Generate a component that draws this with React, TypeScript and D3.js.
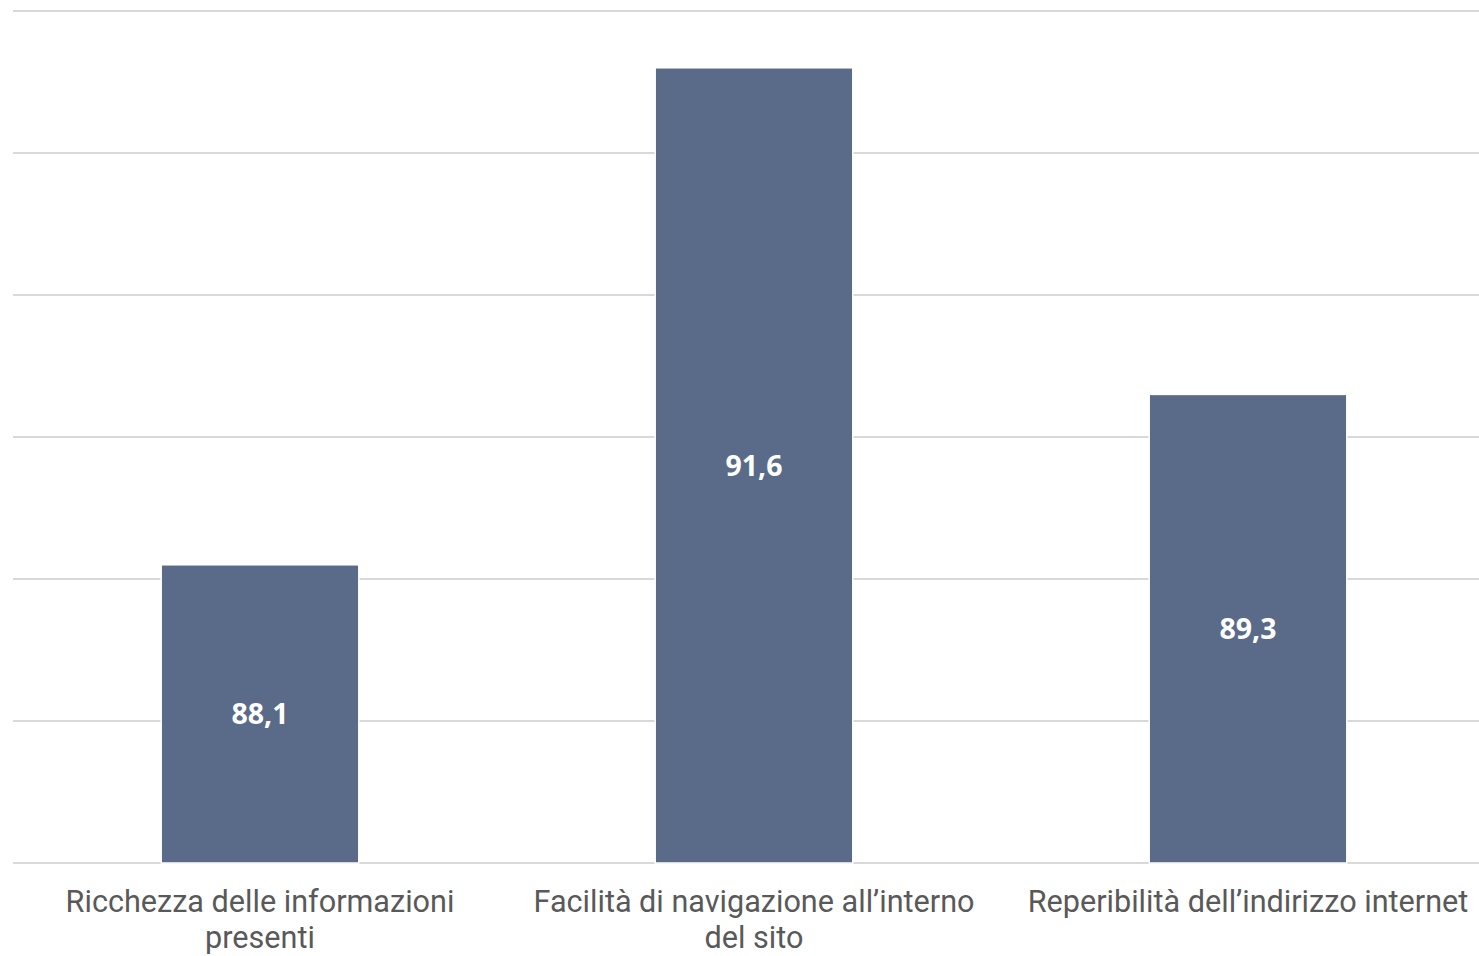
import React from "react";
import * as d3 from "d3";

// Customer satisfaction ratings for the website
const categories = [
  "Ricchezza delle informazioni presenti",
  "Facilità di navigazione all’interno del sito",
  "Reperibilità dell’indirizzo internet",
];
const categoryLines = [
  ["Ricchezza delle informazioni", "presenti"],
  ["Facilità di navigazione all’interno", "del sito"],
  ["Reperibilità dell’indirizzo internet"],
];
const values = [88.1, 91.6, 89.3];
const valueLabels = ["88,1", "91,6", "89,3"];
const yTicks = [86, 87, 88, 89, 90, 91, 92];

const W = 1479;
const H = 956;
const FONT = "'Open Sans', 'Noto Sans', sans-serif";
const LABEL_FONT = "Roboto, 'Open Sans', sans-serif";

export default function App() {
  const x = d3
    .scaleBand<string>()
    .domain(categories)
    .range([13, 1495])
    .paddingInner(0.6)
    .paddingOuter(0.3);
  const y = d3.scaleLinear().domain([86, 92]).range([863, 11]);

  return (
    <svg
      width={W}
      height={H}
      style={{ position: "absolute", left: 0, top: 0, background: "#fff" }}
    >
      {yTicks.map((t) => (
        <line
          key={t}
          x1={13}
          x2={W}
          y1={y(t)}
          y2={y(t)}
          stroke="#d9d9d9"
          strokeWidth={2}
        />
      ))}
      {categories.map((c, i) => {
        const bx = x(c)!;
        const bw = x.bandwidth();
        const top = y(values[i]);
        const base = y(86);
        return (
          <g key={c}>
            <rect
              x={bx}
              y={top}
              width={bw}
              height={base - top}
              fill="#5a6a89"
              stroke="#ffffff"
              strokeWidth={1.5}
            />
            <text
              x={bx + bw / 2}
              y={(top + base) / 2}
              dy="0.36em"
              textAnchor="middle"
              fill="#ffffff"
              fontFamily={FONT}
              fontWeight={700}
              fontSize={28.5}
            >
              {valueLabels[i]}
            </text>
            <text
              x={bx + bw / 2}
              y={912}
              textAnchor="middle"
              fill="#595959"
              fontFamily={LABEL_FONT}
              fontSize={30.6}
            >
              {categoryLines[i].map((ln, j) => (
                <tspan key={j} x={bx + bw / 2} dy={j === 0 ? 0 : 36}>
                  {ln}
                </tspan>
              ))}
            </text>
          </g>
        );
      })}
    </svg>
  );
}
